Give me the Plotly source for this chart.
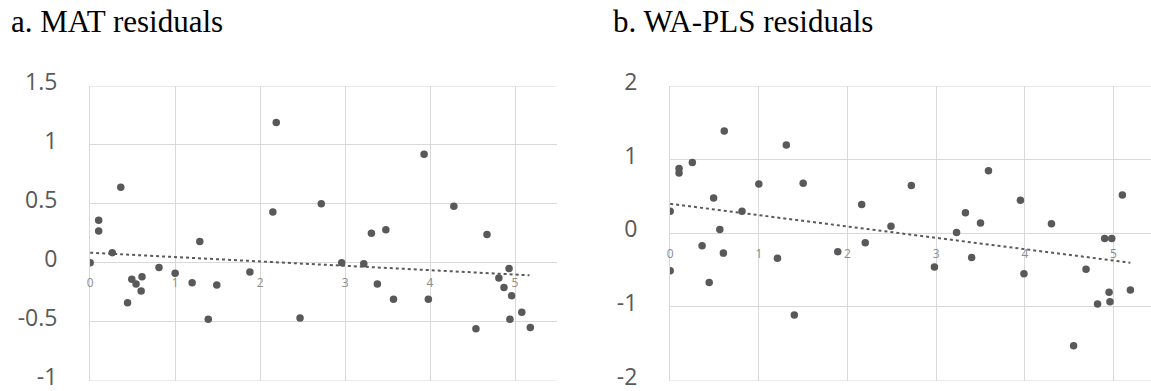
import plotly.graph_objects as go

W, H = 1151, 391

# ---- Panel a: MAT residuals ----
mat_x = [0.00, 0.10, 0.10, 0.26, 0.36, 0.44, 0.49, 0.54, 0.60, 0.61, 0.81, 1.00, 1.20, 1.29, 1.39, 1.49,
         1.88, 2.15, 2.19, 2.47, 2.72, 2.96, 3.22, 3.31, 3.38, 3.48, 3.57, 3.93, 3.98, 4.28, 4.54, 4.67,
         4.81, 4.87, 4.93, 4.94, 4.96, 5.08, 5.18]
mat_y = [0.00, 0.36, 0.27, 0.085, 0.64, -0.34, -0.14, -0.18, -0.24, -0.12, -0.04, -0.09, -0.17, 0.18, -0.48, -0.19,
         -0.08, 0.43, 1.19, -0.47, 0.50, 0.00, -0.01, 0.25, -0.18, 0.28, -0.31, 0.92, -0.31, 0.48, -0.56, 0.24,
         -0.13, -0.21, -0.05, -0.48, -0.28, -0.42, -0.55]
mat_trend_x = [0.0, 5.17]
mat_trend_y = [0.085, -0.107]

# ---- Panel b: WA-PLS residuals ----
wapls_x = [0.00, 0.00, 0.10, 0.10, 0.25, 0.36, 0.44, 0.49, 0.56, 0.60, 0.61, 0.81, 1.00, 1.21, 1.31, 1.40,
           1.50, 1.89, 2.16, 2.20, 2.49, 2.72, 2.98, 3.23, 3.33, 3.40, 3.50, 3.59, 3.95, 3.99, 4.30, 4.55,
           4.69, 4.82, 4.90, 4.95, 4.96, 4.98, 5.10, 5.19]
wapls_y = [0.30, -0.51, 0.88, 0.82, 0.96, -0.17, -0.67, 0.48, 0.05, -0.27, 1.39, 0.30, 0.67, -0.34, 1.20, -1.11,
           0.68, -0.25, 0.39, -0.13, 0.095, 0.65, -0.46, 0.01, 0.28, -0.33, 0.14, 0.85, 0.45, -0.55, 0.13, -1.53,
           -0.49, -0.96, -0.07, -0.80, -0.93, -0.07, 0.52, -0.77]
wapls_trend_x = [0.0, 5.19]
wapls_trend_y = [0.40, -0.40]

titles = ["a. MAT residuals", "b. WA-PLS residuals"]
x_ticks = [0, 1, 2, 3, 4, 5]
x_tick_text = ["0", "1", "2", "3", "4", "5"]
mat_y_range = [-1, 1.5]
mat_y_ticks = [-1, -0.5, 0, 0.5, 1, 1.5]
mat_y_text = ["-1", "-0.5", "0", "0.5", "1", "1.5"]
wapls_y_range = [-2, 2]
wapls_y_ticks = [-2, -1, 0, 1, 2]
wapls_y_text = ["-2", "-1", "0", "1", "2"]

DOT = "#595959"
GRID = "#d9d9d9"
TICK_FONT = dict(family="Open Sans", size=23, color="#595959")
XTICK_FONT = dict(family="Open Sans", size=12, color="#8c8c8c")

def px_x(p):
    return p / W

def px_y(p):
    return (H - p) / H

ybot, ytop = px_y(380.5), px_y(86)

fig = go.Figure()

fig.add_trace(go.Scatter(x=mat_x, y=mat_y, mode="markers", xaxis="x", yaxis="y",
                         marker=dict(color=DOT, size=7.5), showlegend=False))
fig.add_trace(go.Scatter(x=mat_trend_x, y=mat_trend_y, mode="lines", xaxis="x", yaxis="y",
                         line=dict(color=DOT, width=2, dash="dot"), showlegend=False))
fig.add_trace(go.Scatter(x=wapls_x, y=wapls_y, mode="markers", xaxis="x2", yaxis="y2",
                         marker=dict(color=DOT, size=7.5), showlegend=False))
fig.add_trace(go.Scatter(x=wapls_trend_x, y=wapls_trend_y, mode="lines", xaxis="x2", yaxis="y2",
                         line=dict(color=DOT, width=2, dash="dot"), showlegend=False))

yr1 = [mat_y_range[0] - 0.0005, mat_y_range[1] + 0.0005]
yr2 = [wapls_y_range[0] - 0.0008, wapls_y_range[1] + 0.0008]
pos1 = ybot + (0 - yr1[0]) / (yr1[1] - yr1[0]) * (ytop - ybot)
pos2 = ybot + (0 - yr2[0]) / (yr2[1] - yr2[0]) * (ytop - ybot)

common_x = dict(tickvals=x_ticks, ticktext=x_tick_text, showgrid=True, gridcolor=GRID, gridwidth=1,
                zeroline=False, showline=False, ticks="outside", ticklen=9, tickcolor="rgba(0,0,0,0)",
                tickfont=XTICK_FONT, anchor="free", fixedrange=True, automargin=False,
                ticklabeloverflow="allow")
common_y = dict(showgrid=True, gridcolor=GRID, gridwidth=1, zeroline=True, zerolinecolor=GRID,
                zerolinewidth=1, showline=True, linecolor=GRID, linewidth=1,
                ticks="outside", ticklen=27, tickcolor="rgba(0,0,0,0)", tickfont=TICK_FONT,
                ticklabelshift=-4,
                domain=[ybot, ytop], fixedrange=True, automargin=False, ticklabeloverflow="allow")

shapes = []
for xr, yr, vals in (("x", "y", mat_y_range), ("x2", "y2", wapls_y_range)):
    for v in vals:
        shapes.append(dict(type="line", xref=f"{xr} domain", yref=yr, x0=0, x1=1, y0=v, y1=v,
                           line=dict(color=GRID, width=1), layer="below"))

fig.update_layout(
    template="none",
    width=W, height=H,
    margin=dict(l=0, r=0, t=0, b=0, pad=0),
    paper_bgcolor="white", plot_bgcolor="white",
    xaxis=dict(domain=[px_x(90), px_x(556.5)], range=[-0.002, (556.5 - 90) / 85], position=pos1, **common_x),
    yaxis=dict(range=yr1, tickvals=mat_y_ticks, ticktext=mat_y_text, anchor="x", **common_y),
    xaxis2=dict(domain=[px_x(670), 1.0], range=[-0.002, (1151 - 670) / 88.7], position=pos2, **common_x),
    yaxis2=dict(range=yr2, tickvals=wapls_y_ticks, ticktext=wapls_y_text, anchor="x2", **common_y),
    shapes=shapes,
    annotations=[
        dict(text=titles[0], x=px_x(9), y=px_y(22), xref="paper", yref="paper", xanchor="left",
             yanchor="middle", showarrow=False, font=dict(family="Liberation Serif", size=31, color="black")),
        dict(text=titles[1], x=px_x(610.5), y=px_y(22), xref="paper", yref="paper", xanchor="left",
             yanchor="middle", showarrow=False, font=dict(family="Liberation Serif", size=31, color="black")),
    ],
)

fig.write_html("out.html")
